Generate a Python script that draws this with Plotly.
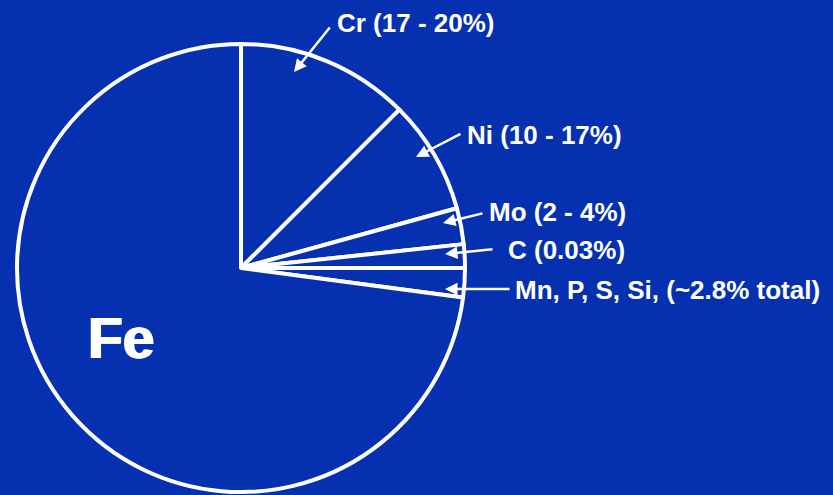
import plotly.graph_objects as go

# Composition of 316 stainless steel (schematic wedge sizes as drawn)
elements = ["Cr", "Ni", "Mo", "C", "Mn, P, S, Si", "Fe"]
wedge_share = [12.5, 8.2, 2.6, 1.7, 2.1, 72.9]
callout_text = ["Cr (17 - 20%)", "Ni (10 - 17%)", "Mo (2 - 4%)",
                "C (0.03%)", "Mn, P, S, Si, (~2.8% total)"]

W, H = 833, 495
BG = "#0531B0"
FONT = "Liberation Sans, Arial, sans-serif"

# Callout layout in pixels: text anchor (left, middle), arrow tail, arrow tip
text_pos = [(335, 23), (465, 135), (487, 212), (506, 250), (513, 290)]
tail_pos = [(331, 26), (462, 133), (484, 213), (494, 249), (511, 289)]
tip_pos = [(294, 72), (416, 157), (443, 223), (445, 254), (445, 289)]


def px(x):
    return x / W


def py(y):
    return 1 - y / H


# Pie geometry (pixels)
cx, cy, r = 241, 268, 224

fig = go.Figure(go.Pie(
    labels=elements,
    values=wedge_share,
    sort=False,
    direction="clockwise",
    rotation=0,
    textinfo="none",
    hoverinfo="none",
    marker=dict(colors=[BG] * len(elements), line=dict(color="white", width=4)),
    domain=dict(x=[px(cx - r), px(cx + r)], y=[py(cy + r), py(cy - r)]),
    showlegend=False,
))

annotations = []
for txt, (tx, ty) in zip(callout_text, text_pos):
    annotations.append(dict(
        x=px(tx), y=py(ty), xref="paper", yref="paper",
        text=f"<b>{txt}</b>", showarrow=False,
        xanchor="left", yanchor="middle",
        font=dict(family=FONT, size=26, color="white"),
    ))
for (ax, ay), (hx, hy) in zip(tail_pos, tip_pos):
    annotations.append(dict(
        x=px(hx), y=py(hy), xref="paper", yref="paper",
        ax=ax - hx, ay=ay - hy, axref="pixel", ayref="pixel",
        text="", showarrow=True, arrowhead=2, arrowsize=1.0,
        arrowwidth=2.5, arrowcolor="white", standoff=0, startstandoff=0,
    ))

# Large label inside the iron wedge
annotations.append(dict(
    x=px(122), y=py(338), xref="paper", yref="paper",
    text="<b>Fe</b>", showarrow=False, xanchor="center", yanchor="middle",
    font=dict(family=FONT, size=57, color="white",
              shadow="1px 0px 0px white, -1px 0px 0px white"),
))

fig.update_layout(
    width=W, height=H,
    margin=dict(l=0, r=0, t=0, b=0),
    paper_bgcolor=BG, plot_bgcolor=BG,
    annotations=annotations,
)

fig.write_html("out.html")
